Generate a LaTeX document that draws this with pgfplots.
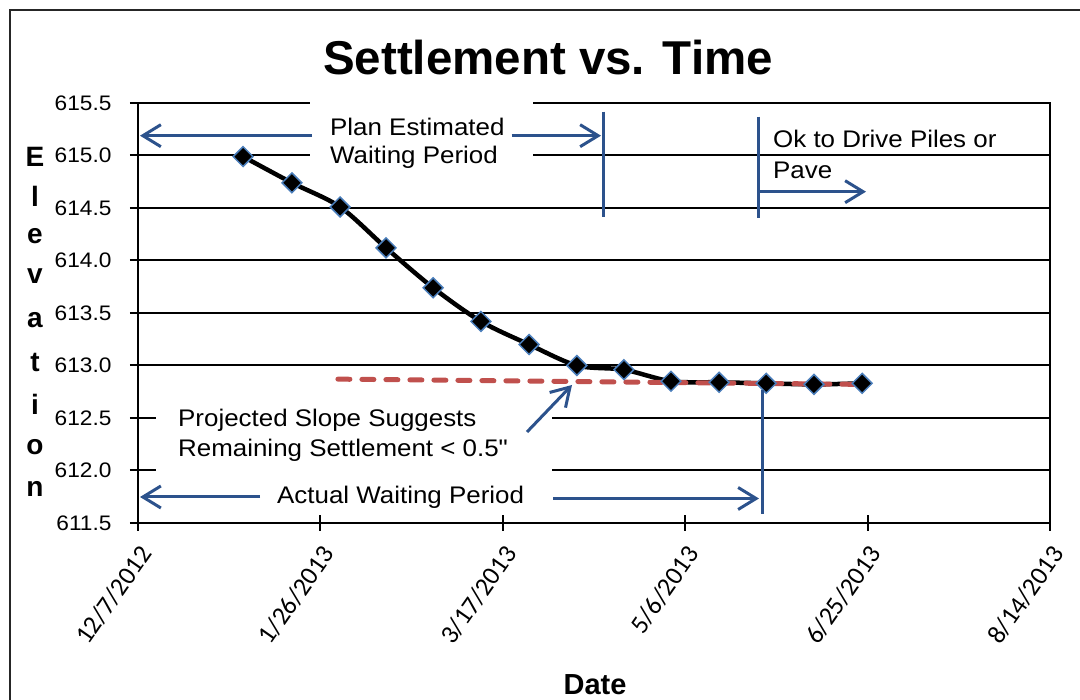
\documentclass[border=0pt]{standalone}
\usepackage{fontspec}
\setmainfont{Liberation Sans}
\newfontfamily\calfont{Carlito}
\newfontfamily\stretchfont{Liberation Sans}[FakeStretch=1.08]
\usepackage{pgfplots}
\usepackage{pgfplotstable}
\pgfplotsset{compat=1.18}
\usetikzlibrary{arrows.meta}
\definecolor{annblue}{RGB}{44,82,140}
\definecolor{mkblue}{RGB}{74,126,187}
\definecolor{trred}{RGB}{192,80,77}

% days since 12/7/2012, elevation
\pgfplotstableread{
day elev
28.8 614.99
42.2 614.74
55.4 614.51
68.0 614.12
80.9 613.74
94.0 613.42
107.2 613.20
120.3 613.00
133.2 612.96
146.1 612.85
159.3 612.84
172.2 612.83
185.3 612.82
198.5 612.83
}\settlement

\pgfplotstableread{
day elev
54.8 612.87
198.5 612.82
}\trend

\begin{document}
\begin{tikzpicture}[x=1pt,y=1pt]
\useasboundingbox (0,0) rectangle (1080,700);
\draw[line width=2pt, black!85] (10,-5) -- (10,690) -- (1085,690);
\begin{axis}[
  at={(138pt,177pt)}, anchor=south west,
  scale only axis, width=912pt, height=420pt,
  xmin=0, xmax=250, ymin=611.5, ymax=615.5,
  xtick={0,50,100,150,200,250},
  xticklabels={12/7/2012,1/26/2013,3/17/2013,5/6/2013,6/25/2013,8/14/2013},
  ytick={611.5,612,612.5,613,613.5,614,614.5,615,615.5},
  ymajorgrids, grid style={black, line width=2pt},
  axis line style={line width=2.5pt, black},
  tick align=center, major tick length=16pt,
  tick style={black, line width=2pt},
  xtick pos=bottom, ytick pos=left,
  /pgf/number format/.cd, fixed, fixed zerofill, precision=1, assume math mode=true,
  /pgfplots/.cd,
  yticklabel style={font=\stretchfont\fontsize{21}{21}\selectfont, anchor=east, xshift=-15pt},
  xticklabel style={font=\calfont\fontsize{26}{26}\selectfont, rotate=55, anchor=east, xshift=-6.7pt, yshift=-16.8pt},
]
\addplot[black, line width=4.5pt, smooth] table[x=day,y=elev] {\settlement};
\addplot[trred, line width=5pt, dash pattern=on 12pt off 12pt, line cap=round] table[x=day,y=elev] {\trend};
\addplot[only marks, mark=square*, mark size=7pt, mark options={rotate=45, fill=black, draw=mkblue, line width=1.5pt}] table[x=day,y=elev] {\settlement};
\end{axis}

% title and axis titles
\node[font=\bfseries\fontsize{47.5}{47.5}\selectfont] at (548,642) {Settlement vs. Time};
\node[font=\bfseries\fontsize{29}{29}\selectfont] at (595,15) {Date};
\foreach \ch/\yy in {E/157,l/196,e/236,v/276,a/320,t/363,i/404,o/447,n/489}{
  \node[font=\bfseries\fontsize{28}{28}\selectfont] at (35,700-\yy) {\ch};
}

% white label boxes
\fill[white] (310,604) rectangle (533,524);
\fill[white] (156,302) rectangle (552,222);

\begin{scope}[font=\stretchfont\fontsize{24}{24}\selectfont, inner sep=0pt]
\node[anchor=west] at (330,573) {Plan Estimated};
\node[anchor=west] at (330,543) {Waiting Period};
\node[anchor=west] at (773,561) {Ok to Drive Piles or};
\node[anchor=west] at (773,530) {Pave};
\node[anchor=west] at (178,280) {Projected Slope Suggests};
\node[anchor=west] at (178,250) {Remaining Settlement < 0.5"};
\node[anchor=west] at (277,203) {Actual Waiting Period};
\end{scope}

\begin{scope}[annblue, line width=3pt, >={Straight Barb[length=18pt,width=22pt]}]
\draw[->] (312,564.3) -- (140,564.3);
\draw[->] (511.7,564.3) -- (601,564.3);
\draw (603,588.3) -- (603,483.3);
\draw (758,583.3) -- (758,482);
\draw[->] (758,508.3) -- (866,508.3);
\draw[->] (527,268) -- (572,315);
\draw[->] (260,203) -- (140,203);
\draw[->] (553,201.5) -- (759,201.5);
\draw (762,310) -- (762,186);
\end{scope}
\end{tikzpicture}
\end{document}
